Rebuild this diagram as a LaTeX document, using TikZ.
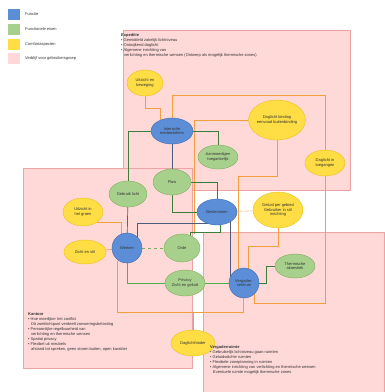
\documentclass[tikz,border=0pt]{standalone}
\usepackage{fontspec}
\setmainfont{Liberation Sans}
\usetikzlibrary{shapes.geometric,calc}
\definecolor{blueF}{HTML}{5B8ED6}
\definecolor{blueD}{HTML}{3E6DB0}
\definecolor{greenF}{HTML}{A8D08D}
\definecolor{greenD}{HTML}{7DAF5E}
\definecolor{yellowF}{HTML}{FFDD44}
\definecolor{yellowD}{HTML}{E8C21A}
\definecolor{pinkF}{HTML}{FFD8D8}
\definecolor{pinkD}{HTML}{EDA3A3}
\definecolor{oraL}{HTML}{F2A03D}
\definecolor{dgrn}{HTML}{3C7D3C}
\definecolor{slate}{HTML}{4E5B7A}
\definecolor{bgrn}{HTML}{4DB04D}
\definecolor{txt}{HTML}{333333}
\pgfdeclarelayer{bg}
\pgfsetlayers{bg,main}
\tikzset{
  nd/.style={ellipse, inner sep=0pt, align=center, text=txt, line width=0.4pt,
    font=\fontsize{4}{4.6}\selectfont},
  func/.style={nd, fill=blueF, draw=blueD},
  feis/.style={nd, fill=greenF, draw=greenD},
  comf/.style={nd, fill=yellowF, draw=yellowD},
  region/.style={fill=pinkF, draw=pinkD, line width=0.5pt},
  ora/.style={draw=oraL, line width=0.6pt},
  oralight/.style={draw=oraL!60, line width=0.6pt},
  dg/.style={draw=dgrn, line width=0.7pt},
  sl/.style={draw=slate, line width=0.7pt},
  bgl/.style={draw=bgrn, line width=0.9pt},
  lgd/.style={draw=greenD, line width=0.7pt, dashed},
  blk/.style={anchor=north west, align=left, inner sep=0pt, text=txt,
    font=\fontsize{4}{5}\selectfont},
  legsq/.style={minimum width=12pt, minimum height=11pt, inner sep=0pt},
  leglab/.style={anchor=west, inner sep=0pt, text=txt, font=\fontsize{4}{5}\selectfont}
}
\begin{document}
\begin{tikzpicture}[x=1pt,y=-1pt]
\useasboundingbox (0,0) rectangle (384,392);

% legend
\node[legsq, fill=blueF] (lg1) at (13.5,14) {};
\node[legsq, fill=greenF] (lg2) at (13.5,29) {};
\node[legsq, fill=yellowF] (lg3) at (13.5,44) {};
\node[legsq, fill=pinkF] (lg4) at (13.5,58) {};
\node[leglab] (lt1) at (25,14) {Functie};
\node[leglab] (lt2) at (25,29) {Functionele eisen};
\node[leglab] (lt3) at (25,44) {Comfortaspecten};
\node[leglab] (lt4) at (25,58) {Verblijf voor gebruikersgroep};

% nodes
\node[func, minimum width=42pt, minimum height=26pt] (inter) at (172,131) {Interactie\\medewerkers};
\node[feis, minimum width=40pt, minimum height=24pt] (aanm) at (218,157) {Aanmoedigen\\toegankelijk};
\node[feis, minimum width=38pt, minimum height=26pt] (flow) at (172,182) {Flow};
\node[feis, minimum width=38pt, minimum height=26pt] (licht) at (128,194) {Gebruik licht};
\node[func, minimum width=40pt, minimum height=26pt] (best) at (217,212) {Bestemmen};
\node[func, minimum width=30pt, minimum height=30pt] (kant) at (127,248) {Werken};
\node[feis, minimum width=36pt, minimum height=28pt] (orde) at (182,248) {Orde};
\node[feis, minimum width=40pt, minimum height=26pt] (priv) at (185,283) {Privacy\\Zicht en geluid};
\node[func, minimum width=30pt, minimum height=30pt] (verg) at (244,283) {Vergader-\\centrum};
\node[feis, minimum width=40pt, minimum height=24pt] (therm) at (295,266) {Thermische\\akoestiek};
\node[comf, minimum width=36pt, minimum height=26pt] (uitz) at (145,83) {Uitzicht en\\beweging};
\node[comf, minimum width=56pt, minimum height=40pt] (bigyel) at (277,120) {Daglicht binding\\eenvoud buitenbinding};
\node[comf, minimum width=40pt, minimum height=26pt] (draai) at (325,163) {Daglicht in\\toegangen};
\node[comf, minimum width=50pt, minimum height=36pt] (gel) at (278,210) {Geluid per gebied\\Gebruiker in stil\\inrichting};
\node[comf, minimum width=40pt, minimum height=28pt] (groen) at (83,212) {Uitzicht in\\het groen};
\node[comf, minimum width=42pt, minimum height=24pt] (stil) at (85,252) {Zicht en stil};
\node[comf, minimum width=44pt, minimum height=26pt] (dagh) at (193,343) {Daglichthinder};

% text blocks
\node[blk] (tA) at (121,33) {\textbf{Expeditie}\\
• Gemiddeld zakelijk lichtniveau\\
• Ontwijkend daglicht\\
• Algemene inrichting van\\
\hspace*{3pt}verlichting en thermische wensen (Ontwerp als mogelijk thermische zones)};
\node[blk] (tB) at (28,313) {\textbf{Kantoor}\\
• Hoe moeilijker het conflict\\
\hspace*{3pt}Dit zoeklichtpunt verdeelt zonweringsbelasting\\
• Persoonlijke regelbaarheid van\\
\hspace*{3pt}verlichting en thermische wensen\\
• Spatial privacy\\
• Flexibel uit meubels\\
\hspace*{3pt}afstand tot spreken, geen storen buiten, open karakter};
\node[blk] (tC) at (210,345) {\textbf{Vergaderruimte}\\
• Gebruikelijk lichtniveau gaan ruimten\\
• Geluidsdichte ruimten\\
• Flexibele zoneplanning in ruimten\\
• Algemene inrichting van verlichting en thermische wensen\\
\hspace*{3pt}Eventuele ruimte mogelijk thermische zones};

\begin{pgfonlayer}{bg}
\fill[white] (0,0) rectangle (384,392);
\draw[region] (123,30) rectangle (350,190);
\draw[region] (23,168) rectangle (192,368);
\draw[region] (203,232) rectangle (384,392);

% comfort connectors
\draw[ora] (uitz.south) -- ++(0,12) -| ($(inter.north)+(-12,2)$);
\draw[ora] (draai.north) |- ($(inter.north)+(0,-23)$) -- (inter);
\draw[ora] (bigyel.west) -| ($(orde.north)+(12,0)$);
\draw[ora] (bigyel.south) |- ($(verg.north)+(-6,-92)$) -- ($(verg.north)+(-6,2)$);
\draw[oralight] (best) -- (gel);
\draw[ora] (gel.south) |- ($(verg.north)+(4,-22)$) -- ($(verg.north)+(4,2)$);
\draw[ora] (draai.south) |- ($(verg.south east)+(0,10)$) -- (verg.south east);
\draw[ora] (groen.south east) -| ($(kant.north)+(-6,2)$);
\draw[ora] (stil) -- (kant);
\draw[ora] ($(kant.south)+(-10,-2)$) |- ($(dagh.north)+(0,-18)$) -- (dagh);
\draw[ora] ($(dagh.north)+(0,-18)$) -| ($(verg.south)+(-1,-2)$);

% function connectors
\draw[dg] (inter) -| (licht);
\draw[dg] (inter) -| (aanm);
\draw[sl] (inter) -- (flow);
\draw[dg] (flow) |- (best);
\draw[dg] (flow) -| ($(best.north)+(0,2)$);
\draw[dg] (licht) -- (kant);
\draw[sl] ($(kant)+(10,0)$) |- ($(best)+(-8,11)$);
\draw[dg] ($(orde)+(8,0)$) |- ($(best.south)+(3,7)$) -- ($(best.south)+(3,-2)$);
\draw[lgd] (kant) -- (orde);
\draw[bgl] (kant) |- (priv);
\draw[bgl] (priv) -- (verg);
\draw[sl] ($(best)+(13,0)$) |- (verg);
\draw[dg] (verg) -- ++(22,0) |- (therm);
\end{pgfonlayer}
\end{tikzpicture}
\end{document}
